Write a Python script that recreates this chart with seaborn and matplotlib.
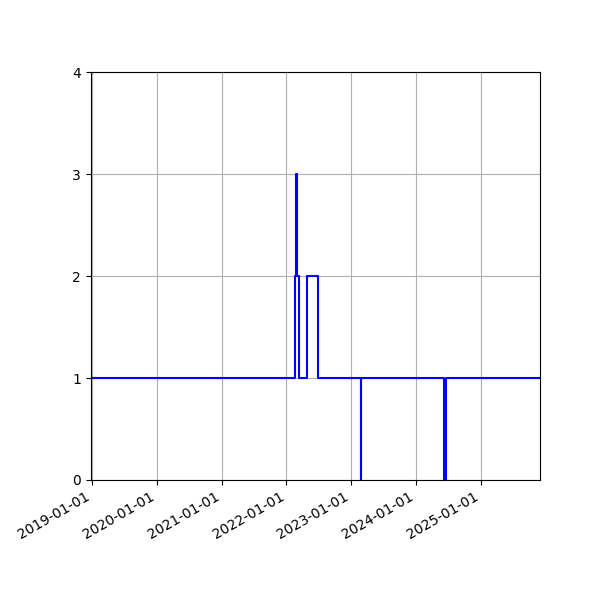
import pandas as pd
import matplotlib
matplotlib.use("Agg")
import matplotlib.pyplot as plt
import matplotlib.dates as mdates
import seaborn as sns

# Datas em que o valor muda (degraus) e o valor a partir de cada data
change_dates = ["2018-12-23", "2022-02-19", "2022-02-24", "2022-02-28",
                "2022-03-13", "2022-04-29", "2022-06-28", "2023-02-26",
                "2023-02-27", "2024-06-05", "2024-06-16", "2025-12-01"]
change_values = [1, 2, 3, 2, 1, 2, 1, 0, 1, 0, 1, 1]

year_ticks = ["2019-01-01", "2020-01-01", "2021-01-01", "2022-01-01",
              "2023-01-01", "2024-01-01", "2025-01-01"]
y_ticks = [0, 1, 2, 3, 4]

df = pd.DataFrame({"date": pd.to_datetime(change_dates), "value": change_values})

fig, ax = plt.subplots(figsize=(6, 6), dpi=100)
sns.lineplot(data=df, x="date", y="value", ax=ax, color="blue",
             drawstyle="steps-post", estimator=None, linewidth=1.5)

ax.set_xlim(df["date"].iloc[0], df["date"].iloc[-1])
ax.set_ylim(0, 4)
ax.set_yticks(y_ticks)
ax.set_xticks(pd.to_datetime(year_ticks))
ax.xaxis.set_major_formatter(mdates.DateFormatter("%Y-%m-%d"))
ax.set_xlabel("")
ax.set_ylabel("")
ax.grid(True)

fig.autofmt_xdate()
fig.subplots_adjust(left=0.151, right=0.9, top=0.88, bottom=0.2)
fig.savefig("out.png", dpi=100)
